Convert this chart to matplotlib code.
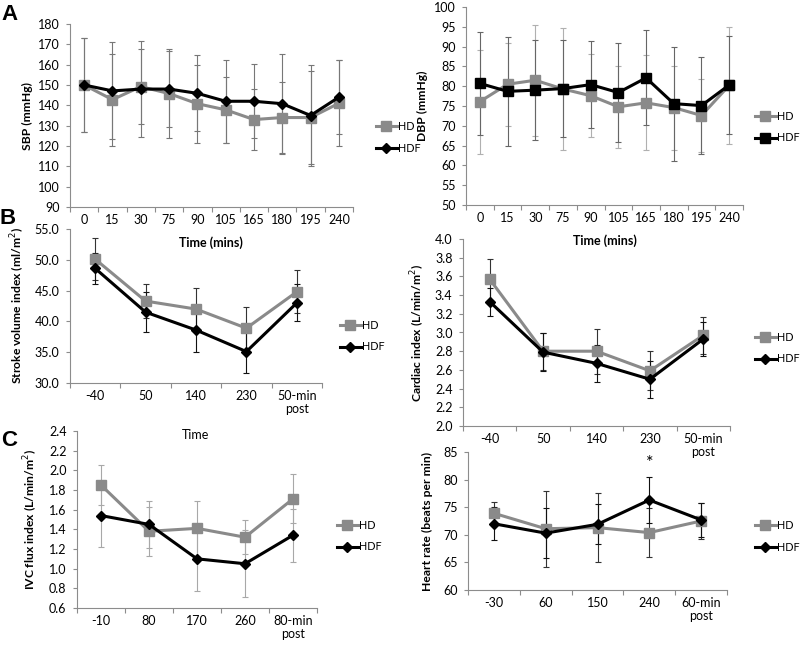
import numpy as np
import matplotlib.pyplot as plt
from matplotlib.ticker import FormatStrFormatter

plt.rcParams['font.family'] = ['Lato', 'DejaVu Sans']

W, H = 805, 645

# ---- panel A: blood pressure ----
bp_times = ['0', '15', '30', '75', '90', '105', '165', '180', '195', '240']
sbp_hd = [150, 142.8, 149.2, 145.8, 140.8, 137.8, 133, 134, 134, 141]
sbp_hd_sd = [23, 22.6, 18.5, 21.8, 19.2, 16.3, 15, 17.7, 23, 21.2]
sbp_hdf = [150, 147.1, 148, 148, 145.9, 142, 142, 140.8, 135, 144]
sbp_hdf_sd = [23, 23.9, 23.4, 18.9, 18.7, 20.5, 18.3, 24.4, 24.7, 18.2]

dbp_hd = [76.1, 80.5, 81.5, 79.3, 77.6, 74.8, 75.8, 74.6, 72.6, 80.2]
dbp_hd_sd = [13.1, 10.5, 14, 15.5, 10.5, 10.4, 12, 10.6, 9.1, 14.8]
dbp_hdf = [80.7, 78.7, 79, 79.4, 80.4, 78.4, 82.1, 75.6, 75.1, 80.3]
dbp_hdf_sd = [13, 13.7, 12.7, 12.2, 10.9, 12.4, 12, 14.4, 12.2, 12.3]

# ---- panel B: stroke volume / cardiac index ----
b_times = ['-40', '50', '140', '230', '50-min\npost']
svi_hd = [50.1, 43.3, 42.0, 38.9, 44.8]
svi_hd_sd = [3.4, 2.8, 3.4, 3.5, 3.5]
svi_hdf = [48.6, 41.5, 38.6, 35.1, 43.0]
svi_hdf_sd = [2.5, 3.2, 3.5, 3.5, 3.0]

ci_hd = [3.57, 2.80, 2.80, 2.59, 2.97]
ci_hd_sd = [0.22, 0.2, 0.24, 0.21, 0.2]
ci_hdf = [3.33, 2.79, 2.67, 2.50, 2.93]
ci_hdf_sd = [0.15, 0.2, 0.2, 0.2, 0.18]

# ---- panel C: IVC flux / heart rate ----
ivc_times = ['-10', '80', '170', '260', '80-min\npost']
ivc_hd = [1.85, 1.38, 1.41, 1.32, 1.71]
ivc_hd_sd = [0.2, 0.25, 0.28, 0.17, 0.25]
ivc_hdf = [1.54, 1.45, 1.10, 1.05, 1.34]
ivc_hdf_sd = [0.32, 0.24, 0.33, 0.34, 0.27]

hr_times = ['-30', '60', '150', '240', '60-min\npost']
hr_hd = [73.9, 71.1, 71.3, 70.4, 72.5]
hr_hd_sd = [2.1, 6.9, 6.3, 4.4, 3.2]
hr_hdf = [72.0, 70.3, 71.9, 76.3, 72.7]
hr_hdf_sd = [3.0, 4.5, 3.6, 4.1, 3.1]

GREY = '#8a8a8a'
AXCOL = '#8c8c8c'
FS = 9


def px_rect(l, t, r, b):
    return [l / W, 1 - b / H, (r - l) / W, (b - t) / H]


def panel(rect, cats, hd, hd_sd, hdf, hdf_sd, ylim, ystep, fmt, ylabel,
          ylab_x, leg_x, leg_y, hdf_marker='D', err_cols=('#777777', '#777777')):
    ax = fig.add_axes(px_rect(*rect))
    ax.set_facecolor('none')
    x = np.arange(len(cats))
    ax.errorbar(x, hd, yerr=hd_sd, fmt='none', ecolor=err_cols[0], elinewidth=0.8,
                capsize=2.5, capthick=0.8, zorder=1)
    ax.errorbar(x, hdf, yerr=hdf_sd, fmt='none', ecolor=err_cols[1], elinewidth=0.8,
                capsize=2.5, capthick=0.8, zorder=1)
    l1, = ax.plot(x, hd, color=GREY, lw=2.2, marker='s', ms=6.5, label='HD', zorder=3)
    ms = 6.5 if hdf_marker == 's' else 5
    l2, = ax.plot(x, hdf, color='black', lw=2.2, marker=hdf_marker, ms=ms, label='HDF', zorder=4)

    ax.set_xlim(-0.5, len(cats) - 0.5)
    ax.set_ylim(*ylim)
    ax.set_yticks(np.arange(ylim[0], ylim[1] + ystep / 2, ystep))
    ax.yaxis.set_major_formatter(FormatStrFormatter(fmt))
    ax.set_xticks(x)
    ax.set_xticklabels(cats, fontsize=FS, linespacing=1.1)
    ax.set_xticks(np.arange(len(cats) + 1) - 0.5, minor=True)
    ax.tick_params(axis='x', which='major', length=0, pad=5)
    ax.tick_params(axis='x', which='minor', length=3.5, color=AXCOL, width=0.8)
    ax.tick_params(axis='y', length=3, color=AXCOL, width=0.8, labelsize=FS, pad=4.5)
    for s in ['top', 'right']:
        ax.spines[s].set_visible(False)
    for s in ['left', 'bottom']:
        ax.spines[s].set_color(AXCOL)
        ax.spines[s].set_linewidth(0.8)

    ax.set_ylabel(ylabel, fontsize=8.7, fontweight='bold')
    ax.yaxis.set_label_coords((ylab_x - rect[0]) / (rect[2] - rect[0]), 0.5)

    ax.legend(handles=[l1, l2], loc='center left', frameon=False, fontsize=7.8,
              bbox_to_anchor=(leg_x / W, 1 - leg_y / H), bbox_transform=fig.transFigure,
              handlelength=1.9, handletextpad=0.15, labelspacing=1.0, borderpad=0,
              borderaxespad=0, numpoints=1)
    return ax


fig = plt.figure(figsize=(W / 100, H / 100), dpi=100)

axA1 = panel((70, 24, 353, 207), bp_times, sbp_hd, sbp_hd_sd, sbp_hdf, sbp_hdf_sd,
             (90, 180), 10, '%d', 'SBP (mmHg)', 33, 376, 137.5)
axA2 = panel((466, 7, 743, 205), bp_times, dbp_hd, dbp_hd_sd, dbp_hdf, dbp_hdf_sd,
             (50, 100), 5, '%d', 'DBP (mmHg)', 428, 755, 127, hdf_marker='s',
             err_cols=('#b0b0b0', '#666666'))
axB1 = panel((70, 229, 322, 383), b_times, svi_hd, svi_hd_sd, svi_hdf, svi_hdf_sd,
             (30, 55), 5, '%.1f', 'Stroke volume index (ml/m$^2$)', 27, 340, 336,
             err_cols=('#333333', '#111111'))
axB2 = panel((463, 239, 730, 426), b_times, ci_hd, ci_hd_sd, ci_hdf, ci_hdf_sd,
             (2.0, 4.0), 0.2, '%.1f', 'Cardiac index (L/min/m$^2$)', 427, 755, 348,
             err_cols=('#333333', '#111111'))
axC1 = panel((77, 431, 317, 608), ivc_times, ivc_hd, ivc_hd_sd, ivc_hdf, ivc_hdf_sd,
             (0.6, 2.4), 0.2, '%.1f', 'IVC flux index (L/min/m$^2$)', 40, 337, 536,
             err_cols=('#a8a8a8', '#a8a8a8'))
axC2 = panel((468, 452, 727, 590), hr_times, hr_hd, hr_hd_sd, hr_hdf, hr_hdf_sd,
             (60, 85), 5, '%d', 'Heart rate (beats per min)', 433, 755, 536.5,
             err_cols=('#333333', '#111111'))

# significance marker
axC2.text(3, 83.0, '*', ha='center', va='center', fontsize=13)

# x axis titles (placed like the original figure)
fig.text(211 / W, 1 - 243 / H, 'Time (mins)', ha='center', va='center',
         fontsize=9, fontweight='bold')
fig.text(605 / W, 1 - 241 / H, 'Time (mins)', ha='center', va='center',
         fontsize=9, fontweight='bold')
fig.text(196 / W, 1 - 435 / H, 'Time', ha='center', va='center', fontsize=9)

# panel letters
for lab, x, y in [('A', 10, 15), ('B', 8, 218), ('C', 9, 441)]:
    fig.text(x / W, 1 - y / H, lab, ha='center', va='center', fontsize=16,
             fontweight='bold', family='Liberation Sans')

fig.savefig('out.png', dpi=100)
